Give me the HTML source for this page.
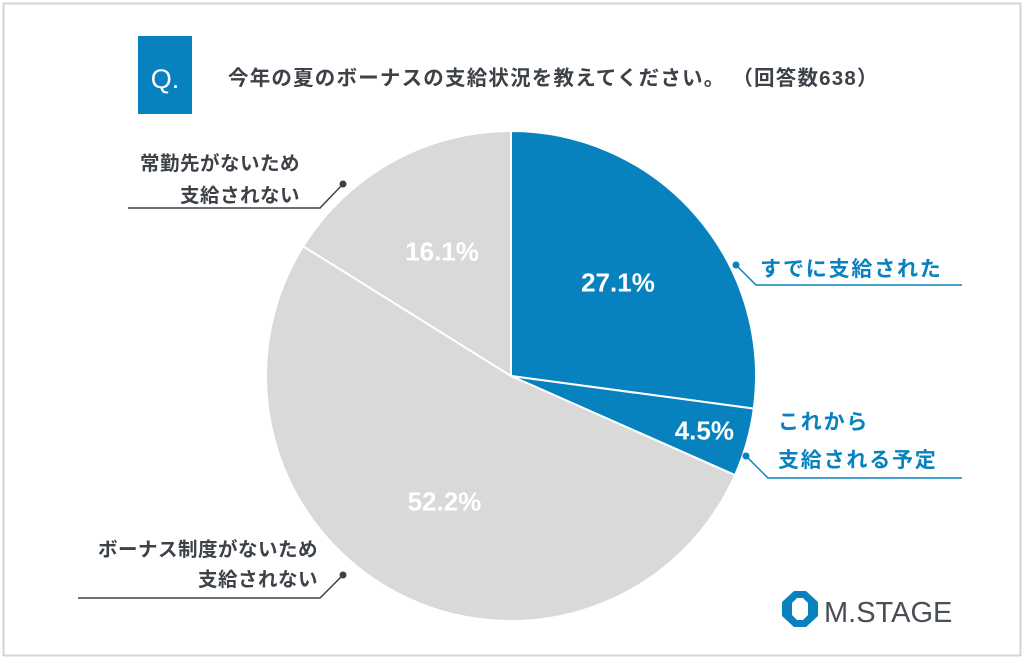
<!DOCTYPE html>
<html><head><meta charset="utf-8"><style>
html,body{margin:0;padding:0;background:#fff}
svg{display:block}
text{font-family:"Liberation Sans","Noto Sans CJK JP",sans-serif}
</style></head><body>
<svg width="1024" height="659" viewBox="0 0 1024 659">
<rect x="3.5" y="3.5" width="1017" height="652" fill="#fff" stroke="#d4d4d4" stroke-width="2"/>
<rect x="138" y="36" width="54" height="78" fill="#0782be"/>
<text x="165" y="88" fill="#fff" font-size="27" text-anchor="middle">Q.</text>
<text x="228" y="85" fill="#3c4248" font-size="20.5" font-weight="bold" letter-spacing="1.2">今年の夏のボーナスの支給状況を教えてください。 （回答数638）</text>
<g id="pie"></g>
<g id="labels"></g>
<g>
<polygon points="782,602 794,591 806,591 818,602 818,616 806,627 794,627 782,616" fill="#0782be"/>
<polygon points="792,603 797,598 803,598 808,603 808,615 803,620 797,620 792,615" fill="#fff"/>
<text x="824" y="622" font-size="29" fill="#4a4f55">M.STAGE</text>
</g>
</svg>
<script>
const categories=["すでに支給された","これから支給される予定","ボーナス制度がないため支給されない","常勤先がないため支給されない"];
const values=[27.1,4.5,52.2,16.1];
const valueLabels=["27.1%","4.5%","52.2%","16.1%"];
const colors=["#0782be","#0782be","#d9d9d9","#d9d9d9"];
const NS="http://www.w3.org/2000/svg";
const cx=511,cy=376,r=245;
const total=values.reduce((a,b)=>a+b,0);
const pie=document.getElementById('pie');
function pt(a,rr){return [cx+rr*Math.sin(a),cy-rr*Math.cos(a)];}
let a0=0;
values.forEach((v,i)=>{
  const a1=a0+v/total*2*Math.PI;
  const p0=pt(a0,r),p1=pt(a1,r);
  const large=(a1-a0)>Math.PI?1:0;
  const path=document.createElementNS(NS,'path');
  path.setAttribute('d',`M${cx},${cy} L${p0[0]},${p0[1]} A${r},${r} 0 ${large} 1 ${p1[0]},${p1[1]} Z`);
  path.setAttribute('fill',colors[i]);
  path.setAttribute('stroke','#fff');
  path.setAttribute('stroke-width','2');
  
  
  pie.appendChild(path);
  const mid=(a0+a1)/2;
  const rr=v<10?0.82*r:0.58*r;
  const lp=pt(mid,rr);
  const t=document.createElementNS(NS,'text');
  t.setAttribute('x',lp[0]);t.setAttribute('y',lp[1]+9);
  t.setAttribute('text-anchor','middle');t.setAttribute('fill','#fff');
  t.setAttribute('font-size','26');t.setAttribute('font-weight','bold');
  t.textContent=valueLabels[i];
  
  
  pie.appendChild(t);
  a0=a1;
});
const labels=document.getElementById('labels');
const defs=[
 {lines:["すでに支給された"],x:760,y:[276],anchor:"start",col:"#0782be",path:"M736,265 L756,285 L962,285",dot:[736,265]},
 {lines:["これから","支給される予定"],x:778,y:[429,467],anchor:"start",col:"#0782be",path:"M746,456 L768,478 L962,478",dot:[746,456]},
 {lines:["ボーナス制度がないため","支給されない"],x:318,y:[556,586],anchor:"end",col:"#3c4248",path:"M343,575 L320,598 L78,598",dot:[343,575]},
 {lines:["常勤先がないため","支給されない"],x:300,y:[170,202],anchor:"end",col:"#3c4248",path:"M343,184 L320,208 L128,208",dot:[343,184]}
];
defs.forEach((d,i)=>{
  const p=document.createElementNS(NS,'path');
  p.setAttribute('d',d.path);p.setAttribute('fill','none');p.setAttribute('stroke',d.col);p.setAttribute('stroke-width','1.5');
  
  
  labels.appendChild(p);
  const c=document.createElementNS(NS,'circle');
  c.setAttribute('cx',d.dot[0]);c.setAttribute('cy',d.dot[1]);c.setAttribute('r','3.5');c.setAttribute('fill',d.col);
  
  
  labels.appendChild(c);
  d.lines.forEach((ln,j)=>{
    const t=document.createElementNS(NS,'text');
    t.setAttribute('x',d.x);t.setAttribute('y',d.y[j]);t.setAttribute('text-anchor',d.anchor);
    t.setAttribute('fill',d.col);t.setAttribute('font-size',i<2?'21':'19.5');t.setAttribute('font-weight','bold');
    t.setAttribute('letter-spacing',i<2?'1.8':'0.5');
    t.textContent=ln;
    
    
    labels.appendChild(t);
  });
});
</script>
</body></html>
